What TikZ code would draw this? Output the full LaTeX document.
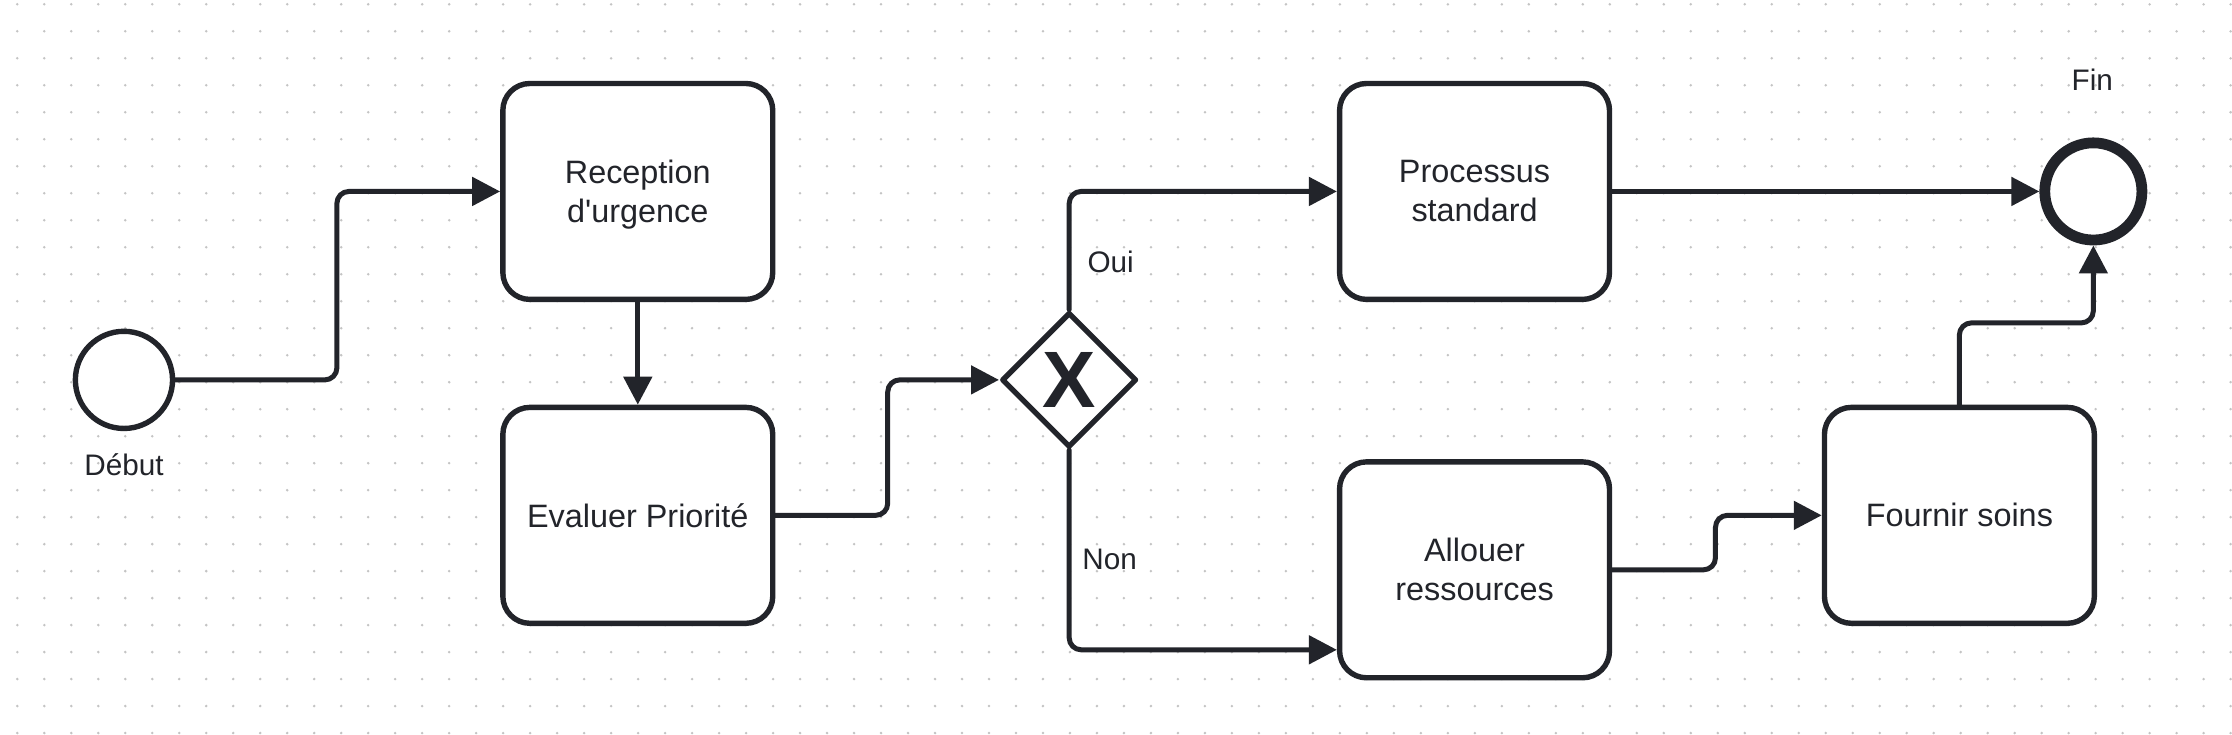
\documentclass[tikz,border=0pt]{standalone}
\usepackage{fontspec}
\setmainfont{Liberation Sans}
\usetikzlibrary{arrows.meta,shapes.geometric}

\definecolor{trait}{HTML}{22242A}
\definecolor{grille}{HTML}{C4C4C4}

\begin{document}
\begin{tikzpicture}[
  x=0.5pt,
  y=-0.5pt,
  line cap=round,
  line join=round,
  tache/.style={
    draw=trait,
    line width=2.7pt,
    fill=white,
    rounded corners=13.5pt,
    minimum width=135pt,
    minimum height=108pt,
    inner sep=0pt,
    align=center,
    text=trait,
    font=\fontsize{16.2}{19.5}\selectfont
  },
  evenement/.style={
    circle,
    draw=trait,
    fill=white,
    line width=2.7pt,
    minimum size=48.6pt,
    inner sep=0pt
  },
  passage/.style={
    diamond,
    draw=trait,
    fill=white,
    line width=2.7pt,
    minimum width=67.5pt,
    minimum height=67.5pt,
    inner sep=0pt,
    text=trait,
    font=\fontsize{40}{40}\selectfont\bfseries
  },
  etiquette/.style={
    text=trait,
    inner sep=0pt,
    font=\fontsize{14.85}{17}\selectfont
  },
  fleche/.style={
    draw=trait,
    line width=2.5pt,
    rounded corners=6pt,
    -{Triangle[length=14pt,width=14pt]}
  }
]

  % fond et grille de points
  \fill[white] (0,0) rectangle (2232,734);
  \foreach \i in {0,...,82}
    \foreach \j in {0,...,27}
      \fill[grille] ({17.3+27*\i},{4.3+27*\j}) circle[radius=0.7pt];

  % evenements
  \node[evenement] (debut) at (124,380) {};
  \node[evenement,line width=5.4pt] (fin) at (2094,191.5) {};

  \node[etiquette] (lbl-debut) at (124,465) {Début};
  \node[etiquette] (lbl-fin) at (2093,80) {Fin};

  % taches
  \node[tache] (reception) at (638,191.5) {Reception\\\smash{d\textquotesingle urgence}};
  \node[tache] (evaluer) at (638,515.5) {Evaluer Priorité};
  \node[tache] (processus) at (1475,191.5) {Processus\\standard};
  \node[tache] (allouer) at (1475,570) {Allouer\\ressources};
  \node[tache] (fournir) at (1960,515.5) {Fournir soins};

  % passerelle exclusive
  \node[passage] (passerelle) at (1069.5,380) {X};

  \node[etiquette] (lbl-oui) at (1111,262) {Oui};
  \node[etiquette] (lbl-non) at (1110,559.5) {Non};

  % flux
  \draw[fleche]
    (debut.east) -- (debut.east -| 337,0) |- (reception.west);

  \draw[fleche]
    (reception.south) -- (evaluer.north);

  \draw[fleche]
    (evaluer.east) -- (evaluer.east -| 888,0) |- (passerelle.west);

  \draw[fleche]
    (passerelle.north) |- (processus.west);

  \draw[fleche]
    (passerelle.south) |- (allouer.west |- 0,650);

  \draw[fleche]
    (allouer.east) -- (allouer.east -| 1716,0) |- (fournir.west);

  \draw[fleche]
    (processus.east) -- (fin.west);

  \draw[fleche]
    (fournir.north) -- (fournir.north |- 0,323) -| (fin.south);

  \path[use as bounding box]
    (0,0) rectangle (2232,734);

\end{tikzpicture}
\end{document}
